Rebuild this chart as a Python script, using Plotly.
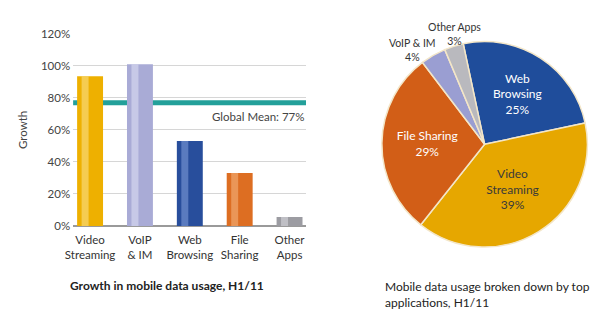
import plotly.graph_objects as go

W, H = 604, 326

# Bar chart data
bar_categories = ["Video<br>Streaming", "VoIP<br>& IM", "Web<br>Browsing", "File<br>Sharing", "Other<br>Apps"]
bar_values = [93.5, 101, 53, 33, 5.5]
bar_colors = ["#eeb000", "#a9abd6", "#284e9c", "#dd6e22", "#9c9ca2"]
bar_highlights = ["#f8d873", "#d4d6ee", "#6f8fce", "#f0a66e", "#cfcfd4"]
global_mean = 77
y_ticks = [0, 20, 40, 60, 80, 100, 120]
y_ticklabels = ["0%", "20%", "40%", "60%", "80%", "100%", "120%"]

# Pie data
pie_labels = ["Web<br>Browsing", "Video<br>Streaming", "File Sharing", "VoIP & IM", "Other Apps"]
pie_values = [25, 39, 29, 4, 3]
pie_colors = ["#1f4d9b", "#e6a700", "#d25e17", "#9a9ed2", "#b9b9be"]
pie_textcolors = ["white", "#3a3a3a", "white", "#333", "#333"]
pie_textpos = ["inside", "inside", "inside", "none", "none"]

FONT = "Lato"

def px(x):
    return x / W

def py(y):
    return 1 - y / H

fig = go.Figure()

xs = list(range(len(bar_values)))
fig.add_trace(go.Bar(
    x=xs, y=bar_values, width=0.52,
    marker=dict(color=bar_colors, line=dict(width=0)),
    hoverinfo="skip", showlegend=False,
))
fig.add_trace(go.Bar(
    x=xs, y=bar_values, width=0.14, offset=-0.17,
    marker=dict(color=bar_highlights, line=dict(width=0), opacity=0.7),
    hoverinfo="skip", showlegend=False,
))

fig.add_trace(go.Pie(
    labels=pie_labels, values=pie_values, sort=False, direction="clockwise",
    rotation=-12,
    marker=dict(colors=pie_colors, line=dict(color="#f3e6c8", width=1.5)),
    texttemplate="%{label}<br>%{percent:.0%}",
    textposition=pie_textpos, insidetextorientation="horizontal",
    textfont=dict(family=FONT, size=12, color=pie_textcolors),
    domain=dict(x=[px(378), px(588)], y=[py(250), py(36)]),
    showlegend=False, hoverinfo="skip",
))

fig.update_layout(
    width=W, height=H, margin=dict(l=0, r=0, t=0, b=0),
    paper_bgcolor="white", plot_bgcolor="white",
    barmode="overlay",
    font=dict(family=FONT, size=11, color="#333"),
    xaxis=dict(
        domain=[px(66), px(302)], range=[-0.34, 4.33],
        tickmode="array", tickvals=xs, ticktext=bar_categories,
        showgrid=False, zeroline=False, showline=False, ticks="",
        ticklabelstandoff=6,
        tickfont=dict(family=FONT, size=11.5, color="#333"),
    ),
    yaxis=dict(
        domain=[py(228), py(28)], range=[0, 120],
        tickmode="array", tickvals=y_ticks, ticktext=y_ticklabels,
        showgrid=True, gridcolor="#d6d6d6", gridwidth=1,
        zeroline=True, zerolinecolor="#9a9a9a", zerolinewidth=1.5,
        ticks="", ticklabelstandoff=2,
        tickfont=dict(family=FONT, size=11.5, color="#444"),
        title=dict(text="Growth", font=dict(family=FONT, size=11.5, color="#444"), standoff=10),
    ),
)

fig.add_shape(type="line", xref="x domain", yref="y", x0=0, x1=1,
              y0=global_mean, y1=global_mean,
              line=dict(color="#23a09a", width=5), layer="below")
fig.add_annotation(xref="x domain", yref="y", x=1, y=global_mean,
                   text=f"Global Mean: {global_mean}%", showarrow=False,
                   xanchor="right", yanchor="top", yshift=-5,
                   font=dict(family=FONT, size=11.5, color="#444"))

fig.add_annotation(xref="paper", yref="paper", x=px(161), y=py(290),
                   text="<b>Growth in mobile data usage, H1/11</b>", showarrow=False,
                   xanchor="center", yanchor="middle",
                   font=dict(family=FONT, size=12, color="#222"))

fig.add_annotation(xref="paper", yref="paper", x=px(380), y=py(299),
                   text="Mobile data usage broken down by top<br>applications, H1/11",
                   showarrow=False, xanchor="left", yanchor="middle", align="left",
                   font=dict(family=FONT, size=12, color="#222"))

# outside labels for the small pie slices
small_pos = {3: (410, 45), 4: (452, 28)}
for i, (x, y) in small_pos.items():
    fig.add_annotation(xref="paper", yref="paper", x=px(x), y=py(y),
                       text=f"{pie_labels[i]}<br>{pie_values[i]}%", showarrow=False,
                       xanchor="center", yanchor="middle",
                       font=dict(family=FONT, size=10.5, color="#333"))

fig.write_html("out.html")
